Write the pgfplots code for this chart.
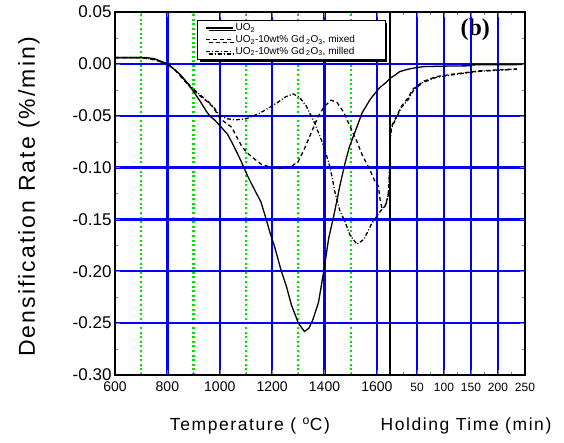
\documentclass[border=0pt]{standalone}
\usepackage{pgfplots}
\pgfplotsset{compat=1.18}
\usetikzlibrary{shadows}
\usepackage{fontspec}
\setmainfont{Liberation Sans}
\newfontfamily\tnr{Liberation Serif}
\newfontfamily\wide[LetterSpace=9]{Liberation Sans}
\definecolor{gridblue}{RGB}{0,0,255}
\definecolor{gridgreen}{RGB}{0,225,0}

\pgfplotsset{
  common/.style={
    scale only axis, height=363pt,
    ymin=-0.30, ymax=0.05,
    ytick={-0.30,-0.25,-0.20,-0.15,-0.10,-0.05,0.00,0.05},
    minor ytick={-0.275,-0.225,-0.175,-0.125,-0.075,-0.025,0.025},
    tick align=inside,
    major tick length=5pt, minor tick length=3pt,
    axis line style={line width=1.3pt},
    ymajorgrids, xmajorgrids,
    major x grid style={draw=gridblue, line width=2.3pt, solid},
    major y grid style={draw=gridblue, line width=2.3pt, solid},
    /pgf/number format/assume math mode=true,
    /pgf/number format/1000 sep={},
    clip=false,
  },
}

\begin{document}
\begin{tikzpicture}
\useasboundingbox (0,0) rectangle (564pt,443pt);

% ---- temperature ramp ----
\begin{axis}[common,
  at={(115pt,68pt)}, anchor=south west, width=275pt,
  xmin=600, xmax=1650,
  xtick={600,800,1000,1200,1400,1600},
  minor xtick={700,900,1100,1300,1500},
  xminorgrids,
  minor x grid style={draw=gridgreen, line width=2.2pt, dash pattern=on 2pt off 2.6pt},
  xtick pos=both, ytick pos=left,
  yticklabel style={font=\fontsize{17}{19}\selectfont,
    /pgf/number format/.cd, fixed, fixed zerofill, precision=2},
  xticklabel style={font=\fontsize{14}{16}\selectfont, yshift=-3.5pt},
  legend style={at={(0.298,0.978)}, anchor=north west, draw=black,
    line width=0.8pt, fill=white, font=\fontsize{10}{11.5}\selectfont,
    inner xsep=8pt, inner ysep=1.5pt, row sep=-1pt,
    drop shadow={shadow xshift=2.5pt, shadow yshift=-2.5pt, fill=black, opacity=1}},
  legend cell align=left,
  legend image code/.code={\draw[#1] (0pt,0pt) -- (27pt,0pt);},
]
\addplot[black, line width=1.3pt] coordinates {
  (600,0.006) (650,0.006) (700,0.006) (720,0.006) (750,0.005) (780,0.002)
  (800,0.000) (825,-0.005) (848,-0.010) (875,-0.018) (898,-0.026) (925,-0.036)
  (952,-0.047) (965,-0.051) (980,-0.054) (1002,-0.060) (1030,-0.068) (1053,-0.079)
  (1080,-0.093) (1106,-0.108) (1130,-0.120) (1157,-0.133) (1175,-0.148)
  (1192,-0.163) (1208,-0.175) (1234,-0.199) (1255,-0.215) (1273,-0.232)
  (1300,-0.250) (1323,-0.258) (1340,-0.255) (1355,-0.247) (1377,-0.230)
  (1397,-0.200) (1416,-0.168) (1435,-0.147) (1459,-0.117) (1478,-0.096)
  (1495,-0.080) (1513,-0.068) (1544,-0.047) (1575,-0.034) (1610,-0.023)
  (1635,-0.018) (1650,-0.014)
};
\addlegendentry{UO\textsubscript{2}}
\addplot[black, line width=1.3pt, dash pattern=on 4pt off 3pt] coordinates {
  (600,0.006) (700,0.006) (750,0.004) (800,0.000) (830,-0.006) (860,-0.015)
  (890,-0.023) (925,-0.031) (950,-0.036) (975,-0.042) (1002,-0.053)
  (1045,-0.061) (1083,-0.079) (1105,-0.086) (1134,-0.092) (1160,-0.097)
  (1186,-0.099) (1222,-0.101) (1250,-0.100) (1273,-0.099) (1300,-0.094)
  (1323,-0.082) (1350,-0.066) (1377,-0.050) (1400,-0.041) (1424,-0.035)
  (1447,-0.037) (1474,-0.047) (1497,-0.060) (1524,-0.075) (1544,-0.088)
  (1571,-0.101) (1590,-0.112) (1606,-0.118) (1612,-0.131) (1620,-0.140)
  (1632,-0.137) (1642,-0.128) (1647,-0.115) (1649,-0.095) (1650,-0.076)
};
\addlegendentry{UO\textsubscript{2}-10wt\% Gd\,\textsubscript{2}O\textsubscript{3}, mixed\hspace*{20pt}}
\addplot[black, line width=1.3pt, dash pattern=on 4pt off 2pt on 1pt off 2pt] coordinates {
  (600,0.006) (700,0.006) (750,0.004) (800,0.000) (830,-0.006) (860,-0.014)
  (890,-0.022) (925,-0.030) (950,-0.035) (975,-0.041) (1000,-0.050)
  (1030,-0.053) (1060,-0.054) (1100,-0.053) (1130,-0.050) (1157,-0.047)
  (1190,-0.042) (1222,-0.037) (1250,-0.032) (1280,-0.029) (1304,-0.032)
  (1331,-0.041) (1362,-0.057) (1389,-0.074) (1416,-0.095) (1428,-0.108)
  (1439,-0.123) (1459,-0.142) (1478,-0.152) (1497,-0.165) (1524,-0.174)
  (1551,-0.169) (1578,-0.155) (1605,-0.145) (1620,-0.140) (1635,-0.135)
  (1645,-0.125) (1648,-0.100) (1650,-0.078)
};
\addlegendentry{UO\textsubscript{2}-10wt\% Gd\,\textsubscript{2}O\textsubscript{3}, milled}
\node[font=\tnr\bfseries\fontsize{24}{26}\selectfont] at (rel axis cs:1.31,0.95) {(b)};
\end{axis}

% ---- isothermal hold ----
\begin{axis}[common,
  at={(390pt,68pt)}, anchor=south west, width=135pt,
  xmin=0, xmax=250,
  xtick={50,100,150,200,250},
  minor xtick={25,75,125,175,225},
  xtick pos=both, ytick pos=right,
  yticklabels={},
  xticklabel style={font=\fontsize{12}{13}\selectfont, yshift=-5pt},
]
\addplot[black, line width=1.3pt] coordinates {
  (0,-0.014) (9,-0.011) (18,-0.0075) (31,-0.0055) (43,-0.0042) (61,-0.0027)
  (100,-0.0022) (146,-0.0019) (150,-0.001) (200,-0.0008) (245,-0.0007)
};
\addplot[black, line width=1.3pt, dash pattern=on 4pt off 3pt] coordinates {
  (0,-0.073) (3,-0.060) (9,-0.054) (21,-0.041) (33,-0.033) (43,-0.024)
  (49,-0.022) (61,-0.017) (86,-0.0123) (116,-0.010) (165,-0.0068) (235,-0.0049)
};
\addplot[black, line width=1.3pt, dash pattern=on 4pt off 2pt on 1pt off 2pt] coordinates {
  (0,-0.075) (3,-0.062) (9,-0.055) (21,-0.042) (33,-0.035) (43,-0.026)
  (49,-0.023) (61,-0.018) (86,-0.013) (116,-0.0105) (165,-0.0072) (235,-0.0052)
};
\end{axis}

\node[rotate=90, font=\wide\fontsize{23}{25}\selectfont] at (29pt,246pt) {Densification Rate (\%/min)};
\node[font=\wide\fontsize{17.5}{20}\selectfont] at (250pt,17pt) {Temperature ( \textsuperscript{o}C)};
\node[font=\wide\fontsize{17.5}{20}\selectfont] at (466pt,17pt) {Holding Time (min)};
\end{tikzpicture}
\end{document}
